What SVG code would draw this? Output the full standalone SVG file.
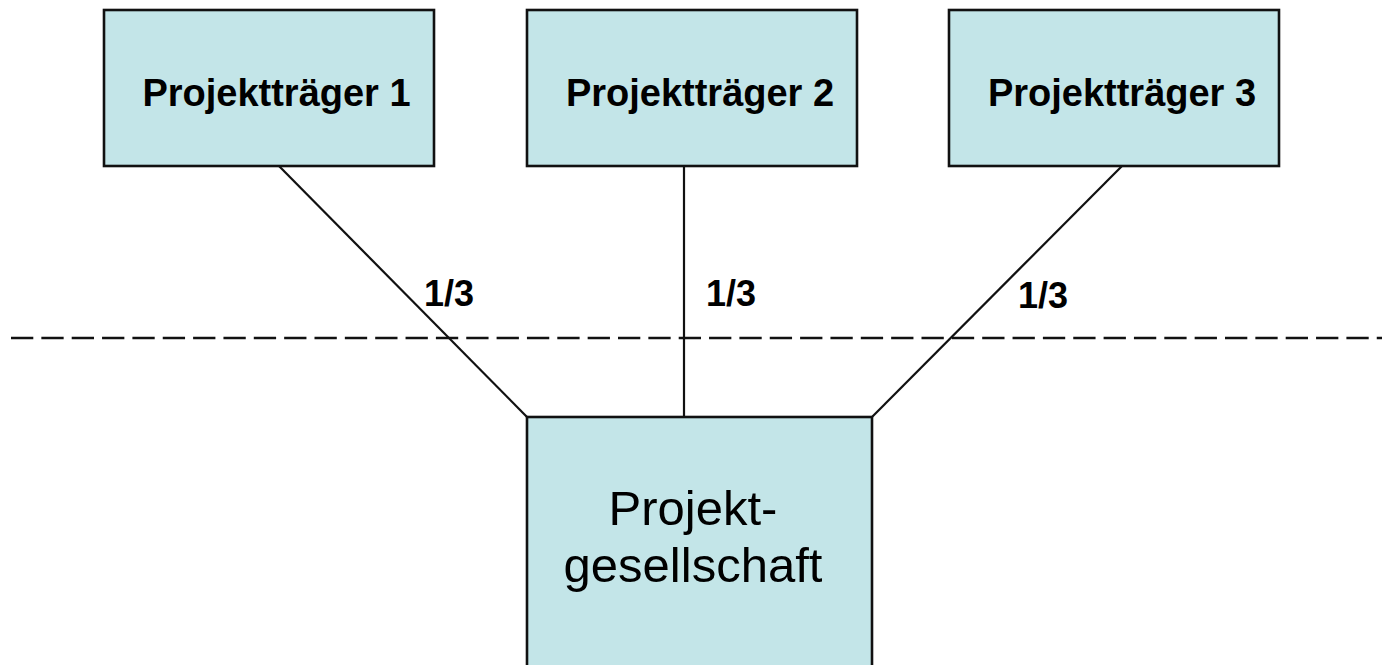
<svg xmlns="http://www.w3.org/2000/svg" width="1382" height="665" viewBox="0 0 1382 665">
  <style>
    .box { fill: #C3E5E8; stroke: #111; stroke-width: 2.6; }
    .link { stroke: #111; stroke-width: 2.2; fill: none; }
    .sep { stroke: #111; stroke-width: 2.4; stroke-dasharray: 22.3 8.05; fill: none; }
    .title { font-family: "Liberation Sans", Arial, sans-serif; font-weight: bold; font-size: 38px; fill: #000; text-anchor: middle; }
    .share { font-family: "Liberation Sans", Arial, sans-serif; font-weight: bold; font-size: 36px; fill: #000; }
    .main { font-family: "Liberation Sans", Arial, sans-serif; font-size: 49px; fill: #000; text-anchor: middle; }
  </style>
  <rect width="1382" height="665" fill="#fff"/>

  <!-- separator line -->
  <line class="sep" x1="11" y1="338" x2="1382" y2="338"/>

  <g id="connectors">
    <line class="link" x1="279" y1="166" x2="527" y2="417"/>
    <line class="link" x1="684" y1="166" x2="684" y2="417"/>
    <line class="link" x1="1122" y1="166" x2="872" y2="417"/>
    <text class="share" x="424" y="306">1/3</text>
    <text class="share" x="706" y="306">1/3</text>
    <text class="share" x="1018" y="308">1/3</text>
  </g>

  <g id="traeger1">
    <rect class="box" x="104" y="10" width="330" height="156"/>
    <text class="title" x="276.5" y="106">Projektträger 1</text>
  </g>
  <g id="traeger2">
    <rect class="box" x="527" y="10" width="330" height="156"/>
    <text class="title" x="700" y="106">Projektträger 2</text>
  </g>
  <g id="traeger3">
    <rect class="box" x="949" y="10" width="330" height="156"/>
    <text class="title" x="1122" y="106">Projektträger 3</text>
  </g>

  <g id="gesellschaft">
    <rect class="box" x="527" y="417" width="345" height="270"/>
    <text class="main" x="693" y="525">Projekt-</text>
    <text class="main" x="693" y="582">gesellschaft</text>
  </g>
</svg>
